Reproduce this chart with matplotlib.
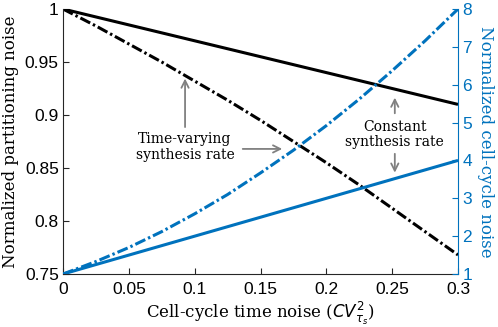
import matplotlib
matplotlib.use("Agg")
import matplotlib.pyplot as plt
import numpy as np

# Data
x = [0.0, 0.025, 0.05, 0.075, 0.10, 0.125, 0.15, 0.175, 0.20, 0.225, 0.25, 0.275, 0.30]
part_const = [1.0, 0.9925, 0.985, 0.9775, 0.970, 0.9625, 0.955, 0.9475, 0.940, 0.9325, 0.925, 0.9175, 0.910]
part_varying = [1.0, 0.984, 0.967, 0.950, 0.932, 0.914, 0.895, 0.875, 0.855, 0.834, 0.812, 0.790, 0.768]
cycle_const = [1.0, 1.25, 1.5, 1.75, 2.0, 2.25, 2.5, 2.75, 3.0, 3.25, 3.5, 3.75, 4.0]
cycle_varying = [1.0, 1.33, 1.70, 2.12, 2.59, 3.10, 3.67, 4.27, 4.92, 5.62, 6.37, 7.16, 8.0]

left_ticks = [0.75, 0.8, 0.85, 0.9, 0.95, 1]
left_ticklabels = ["0.75", "0.8", "0.85", "0.9", "0.95", "1"]
right_ticks = [1, 2, 3, 4, 5, 6, 7, 8]
x_ticks = [0, 0.05, 0.1, 0.15, 0.2, 0.25, 0.3]
x_ticklabels = ["0", "0.05", "0.1", "0.15", "0.2", "0.25", "0.3"]

blue = "#0072BD"
gray = "#808080"
tickfont = "Liberation Sans"
labelfont = "DejaVu Serif"

fig = plt.figure(figsize=(4.98, 3.27), dpi=100)
ax1 = fig.add_axes([0.1265, 0.162, 0.7932, 0.8105])
ax2 = ax1.twinx()

dash = (0, (3.6, 1.0, 0.8, 1.0))
ax1.plot(x, part_const, color="black", lw=2.2, solid_capstyle="butt")
ax1.plot(x, part_varying, color="black", lw=2.2, linestyle=dash)
ax2.plot(x, cycle_const, color=blue, lw=2.2, solid_capstyle="butt")
ax2.plot(x, cycle_varying, color=blue, lw=2.2, linestyle=dash)

ax1.set_xlim(0, 0.3)
ax1.set_ylim(0.75, 1)
ax2.set_ylim(1, 8)

ax1.set_xticks(x_ticks)
ax1.set_xticklabels(x_ticklabels, fontfamily=tickfont, fontsize=12.5)
ax1.set_yticks(left_ticks)
ax1.set_yticklabels(left_ticklabels, fontfamily=tickfont, fontsize=12.5)
ax2.set_yticks(right_ticks)
ax2.set_yticklabels([str(t) for t in right_ticks], fontfamily=tickfont, fontsize=12.5, color=blue)

for ax in (ax1, ax2):
    ax.tick_params(direction="in", length=4, width=0.8)
ax2.tick_params(axis="y", colors=blue, pad=3)
ax1.tick_params(axis="y", colors="#262626", labelcolor="black", pad=3)
ax1.tick_params(axis="x", colors="#262626", labelcolor="black", pad=6)

ax1.spines["top"].set_visible(False)
ax2.spines["top"].set_visible(False)
ax1.spines["right"].set_visible(False)
ax2.spines["left"].set_visible(False)
ax2.spines["bottom"].set_visible(False)
ax2.spines["right"].set_color(blue)
ax1.spines["left"].set_color("#262626")
ax1.spines["bottom"].set_color("#262626")

ax1.set_ylabel("Normalized partitioning noise", fontfamily=labelfont, fontsize=12, labelpad=4)
ax2.set_ylabel("Normalized cell-cycle noise", fontfamily=labelfont, fontsize=12, color=blue,
               rotation=270, labelpad=16)
ax1.set_xlabel(r"Cell-cycle time noise ($CV_{\tau_s}^2$)", fontfamily=labelfont, fontsize=12, labelpad=2)

arrow = dict(arrowstyle="->", color=gray, lw=1.3, mutation_scale=13)
ax1.text(0.0927, 0.870, "Time-varying\nsynthesis rate", ha="center", va="center",
         fontfamily=labelfont, fontsize=10, linespacing=1.15)
ax1.annotate("", xy=(0.0927, 0.937), xytext=(0.0927, 0.886), arrowprops=arrow)
ax1.annotate("", xy=(0.1686, 0.868), xytext=(0.1344, 0.868), arrowprops=arrow)

ax1.text(0.252, 0.8816, "Constant\nsynthesis rate", ha="center", va="center",
         fontfamily=labelfont, fontsize=10, linespacing=1.15)
ax1.annotate("", xy=(0.252, 0.919), xytext=(0.252, 0.899), arrowprops=arrow)
ax1.annotate("", xy=(0.252, 0.843), xytext=(0.252, 0.866), arrowprops=arrow)

fig.savefig("out.png", dpi=100)
